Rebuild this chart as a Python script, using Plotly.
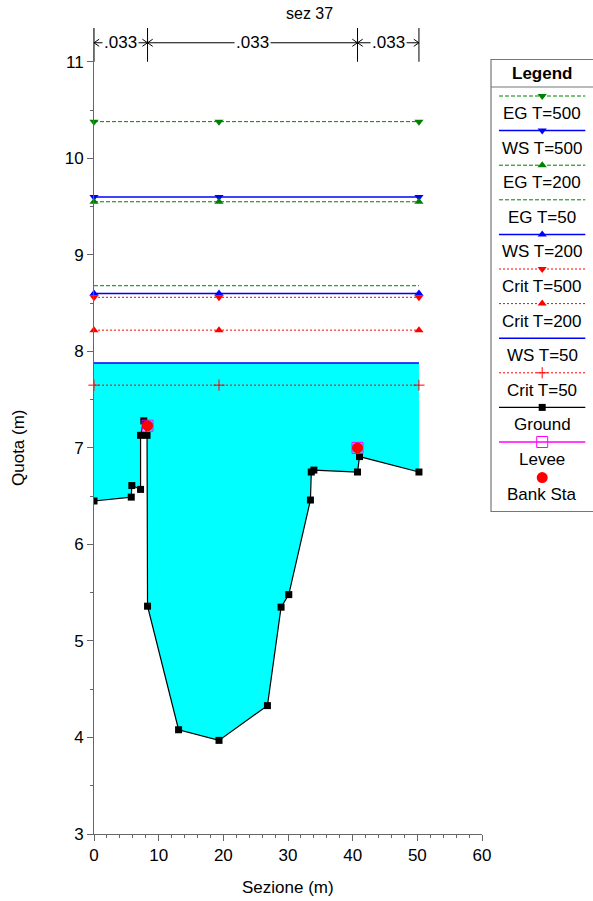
import plotly.graph_objects as go

# ---------------- data ----------------
section_title = "sez 37"
ground_x = [0.0, 5.76, 5.85, 7.2, 7.2, 7.7, 8.2, 8.28, 13.08, 19.33, 26.82, 28.93, 30.12, 33.47, 33.6, 34.0, 40.75, 41.06, 50.25]
ground_y = [6.45, 6.49, 6.61, 6.57, 7.13, 7.28, 7.13, 5.36, 4.08, 3.97, 4.33, 5.35, 5.48, 6.46, 6.75, 6.77, 6.75, 6.91, 6.75]
bank_x = [8.28, 40.75]
bank_y = [7.23, 7.00]
levee_x = [8.28, 40.75]
levee_y = [7.23, 7.00]
n_stations = [0.0, 8.28, 40.75, 50.25]
n_values = [".033", ".033", ".033"]
profile_x = [0.0, 19.33, 50.25]
profile_names = ["EG T=500", "WS T=500", "EG T=200", "EG T=50", "WS T=200",
                 "Crit T=500", "Crit T=200", "WS T=50", "Crit T=50"]
profile_levels = [10.38, 9.60, 9.55, 8.68, 8.60, 8.56, 8.22, 7.88, 7.65]
x_ticks = [0, 10, 20, 30, 40, 50, 60]
y_ticks = [3, 4, 5, 6, 7, 8, 9, 10, 11]

# ---------------- styles ----------------
GREEN, BLUE, RED = "#008000", "#0000FF", "#FF0000"
styles = {
    "EG T=500": dict(color=GREEN, dash="4px,2px", width=1, symbol="triangle-down"),
    "WS T=500": dict(color=BLUE, dash="solid", width=1.5, symbol="triangle-down"),
    "EG T=200": dict(color=GREEN, dash="4px,2px", width=1, symbol="triangle-up"),
    "EG T=50": dict(color=GREEN, dash="4px,2px", width=1, symbol=None),
    "WS T=200": dict(color=BLUE, dash="solid", width=1.5, symbol="triangle-up"),
    "Crit T=500": dict(color=RED, dash="2px,2px", width=1, symbol="triangle-down"),
    "Crit T=200": dict(color=RED, dash="2px,2px", width=1, symbol="triangle-up"),
    "WS T=50": dict(color=BLUE, dash="solid", width=1.5, symbol=None),
    "Crit T=50": dict(color=RED, dash="2px,2px", width=1, symbol="cross-thin"),
}
FONT = "Liberation Sans, Arial, sans-serif"
FS = 17
AXC = "#666666"

W, H = 593, 901
ML, MR, MT, MB = 94, 0, 28, 67
PLOT_W = 388  # pixel width of main plot area
dom_main = PLOT_W / (W - ML - MR)

def marker_for(st, size=8):
    if st["symbol"] is None:
        return dict(size=1, opacity=0)
    if st["symbol"] == "cross-thin":
        return dict(symbol="cross-thin", size=8, color=st["color"],
                    line=dict(color=st["color"], width=1))
    return dict(symbol=st["symbol"], size=size, color=st["color"])

fig = go.Figure()

# water fill (WS T=50 over ground)
ws50 = profile_levels[profile_names.index("WS T=50")]
fig.add_trace(go.Scatter(
    x=ground_x + [ground_x[-1], ground_x[0]],
    y=ground_y + [ws50, ws50],
    fill="toself", fillcolor="#00FFFF", mode="lines",
    line=dict(width=0), hoverinfo="skip", showlegend=False))

# profile lines
for name, lvl in zip(profile_names, profile_levels):
    st = styles[name]
    fig.add_trace(go.Scatter(
        x=profile_x, y=[lvl] * len(profile_x),
        mode="lines+markers" if st["symbol"] else "lines",
        line=dict(color=st["color"], dash=st["dash"], width=st["width"]),
        marker=marker_for(st), name=name, showlegend=False, cliponaxis=False))

# ground
fig.add_trace(go.Scatter(x=ground_x, y=ground_y, mode="lines+markers",
                         line=dict(color="black", width=1.2),
                         marker=dict(symbol="square", size=7, color="black"),
                         name="Ground", showlegend=False))
# levee
fig.add_trace(go.Scatter(x=levee_x, y=levee_y, mode="markers",
                         marker=dict(symbol="square-open", size=11, color="#FF00FF",
                                     line=dict(width=1)),
                         name="Levee", showlegend=False))
# bank stations
fig.add_trace(go.Scatter(x=bank_x, y=bank_y, mode="markers",
                         marker=dict(symbol="circle", size=11, color=RED),
                         name="Bank Sta", showlegend=False))

shapes, annotations = [], []

# Manning n markers above the plot
n_bar_y0, n_bar_y1, n_line_y = 11.0, 11.36, 11.197
dx_head, dy_head = 0.8, 0.037
for s in n_stations:
    shapes.append(dict(type="line", xref="x", yref="y", x0=s, x1=s,
                       y0=n_bar_y0, y1=n_bar_y1, line=dict(color="black", width=1)))
for i, val in enumerate(n_values):
    a, b = n_stations[i], n_stations[i + 1]
    shapes.append(dict(type="line", xref="x", yref="y", x0=a, x1=b,
                       y0=n_line_y, y1=n_line_y, line=dict(color="black", width=1)))
    for tip, sgn in ((a, 1), (b, -1)):
        path = (f"M{tip + sgn*dx_head},{n_line_y + dy_head} L{tip},{n_line_y} "
                f"L{tip + sgn*dx_head},{n_line_y - dy_head}")
        shapes.append(dict(type="path", xref="x", yref="y", path=path,
                           line=dict(color="black", width=1)))
    annotations.append(dict(x=(a + b) / 2, y=n_line_y, xref="x", yref="y",
                            text=val, showarrow=False, bgcolor="white",
                            borderpad=1, font=dict(size=FS, color="black", family=FONT),
                            xanchor="center", yanchor="middle"))

# ---------------- custom legend (on a hidden pixel-coordinate axis) ----------------
leg_names = profile_names + ["Ground", "Levee", "Bank Sta"]
leg_x0, leg_x1, leg_xc = 499, 585.3, 542.2
leg_top_line = 96.0
leg_step = 34.6
shapes.append(dict(type="rect", xref="x2", yref="y2", x0=491, x1=600, y0=59.5, y1=511.5,
                   line=dict(color="#777777", width=1.2), fillcolor="rgba(0,0,0,0)"))
shapes.append(dict(type="line", xref="x2", yref="y2", x0=491, x1=600, y0=87, y1=87,
                   line=dict(color="#777777", width=1.2)))
annotations.append(dict(x=leg_xc, y=73.5, xref="x2", yref="y2", text="<b>Legend</b>",
                        showarrow=False, font=dict(size=FS, color="black", family=FONT),
                        xanchor="center", yanchor="middle"))
for i, name in enumerate(leg_names):
    ly = leg_top_line + leg_step * i
    if name in styles:
        st = styles[name]
        fig.add_trace(go.Scatter(x=[leg_x0, leg_x1], y=[ly, ly], mode="lines",
                                 line=dict(color=st["color"], dash=st["dash"], width=st["width"]),
                                 xaxis="x2", yaxis="y2", showlegend=False, hoverinfo="skip"))
        if st["symbol"]:
            fig.add_trace(go.Scatter(x=[leg_xc], y=[ly], mode="markers", marker=marker_for(st),
                                     xaxis="x2", yaxis="y2", showlegend=False,
                                     hoverinfo="skip", cliponaxis=False))
    elif name == "Ground":
        fig.add_trace(go.Scatter(x=[leg_x0, leg_xc, leg_x1], y=[ly, ly, ly], mode="lines",
                                 line=dict(color="black", width=1.2),
                                 xaxis="x2", yaxis="y2", showlegend=False, hoverinfo="skip"))
        fig.add_trace(go.Scatter(x=[leg_xc], y=[ly], mode="markers",
                                 marker=dict(symbol="square", size=7, color="black"),
                                 xaxis="x2", yaxis="y2", showlegend=False, hoverinfo="skip"))
    elif name == "Levee":
        fig.add_trace(go.Scatter(x=[leg_x0, leg_x1], y=[ly, ly], mode="lines",
                                 line=dict(color="#FF00FF", width=1.5),
                                 xaxis="x2", yaxis="y2", showlegend=False, hoverinfo="skip"))
        fig.add_trace(go.Scatter(x=[leg_xc], y=[ly], mode="markers",
                                 marker=dict(symbol="square-open", size=11, color="#FF00FF",
                                             line=dict(width=1)),
                                 xaxis="x2", yaxis="y2", showlegend=False, hoverinfo="skip"))
    else:
        fig.add_trace(go.Scatter(x=[leg_xc], y=[ly + 1], mode="markers",
                                 marker=dict(symbol="circle", size=11, color=RED),
                                 xaxis="x2", yaxis="y2", showlegend=False, hoverinfo="skip",
                                 cliponaxis=False))
    annotations.append(dict(x=leg_xc, y=ly + 17.5, xref="x2", yref="y2", text=name,
                            showarrow=False, font=dict(size=FS, color="black", family=FONT),
                            xanchor="center", yanchor="middle"))

# titles
PH = H - MT - MB
annotations.append(dict(x=(309 - ML) / (W - ML - MR), y=1 + (MT - 14) / PH,
                        xref="paper", yref="paper", text=section_title, showarrow=False,
                        font=dict(size=16, color="black", family=FONT),
                        xanchor="center", yanchor="middle"))
annotations.append(dict(x=dom_main / 2, y=-(887 - (H - MB)) / PH,
                        xref="paper", yref="paper", text="Sezione (m)", showarrow=False,
                        font=dict(size=FS, color="black", family=FONT),
                        xanchor="center", yanchor="middle"))
annotations.append(dict(x=-(ML - 18) / (W - ML - MR), y=((H - MB) - 448) / PH,
                        xref="paper", yref="paper", text="Quota (m)", showarrow=False,
                        textangle=-90, font=dict(size=FS, color="black", family=FONT),
                        xanchor="center", yanchor="middle"))

fig.update_layout(
    template="none",
    width=W, height=H, autosize=False,
    margin=dict(l=ML, r=MR, t=MT, b=MB, pad=0, autoexpand=False),
    paper_bgcolor="white", plot_bgcolor="white",
    showlegend=False,
    font=dict(family=FONT, size=FS, color="black"),
    xaxis=dict(domain=[0, dom_main], range=[0, 60], tickvals=x_ticks, automargin=False,
               showgrid=False, zeroline=False, showline=True, linecolor=AXC, linewidth=1,
               ticks="outside", ticklen=6, tickcolor=AXC, tickwidth=1,
               tickfont=dict(size=FS, color="black", family=FONT),
               minor=dict(dtick=2, ticks="outside", ticklen=3, tickcolor=AXC, showgrid=False),
               fixedrange=True),
    yaxis=dict(range=[3, 11.35], tickvals=y_ticks, automargin=False,
               showgrid=False, zeroline=False, showline=True, linecolor=AXC, linewidth=1,
               ticks="outside", ticklen=6, tickcolor=AXC, tickwidth=1,
               tickfont=dict(size=FS, color="black", family=FONT),
               minor=dict(dtick=0.5, ticks="outside", ticklen=3, tickcolor=AXC, showgrid=False),
               fixedrange=True),
    xaxis2=dict(domain=[(490 - ML) / (W - ML - MR), 1], range=[490, W], visible=False,
                automargin=False, anchor="y2", fixedrange=True),
    yaxis2=dict(domain=[0, 1], range=[H - MB, MT], visible=False, anchor="x2",
                automargin=False, fixedrange=True),
    shapes=shapes, annotations=annotations,
)

fig.write_html("out.html", config={"displayModeBar": False, "responsive": False},
               post_script="document.body.style.margin='0px';document.body.style.overflow='hidden';")
